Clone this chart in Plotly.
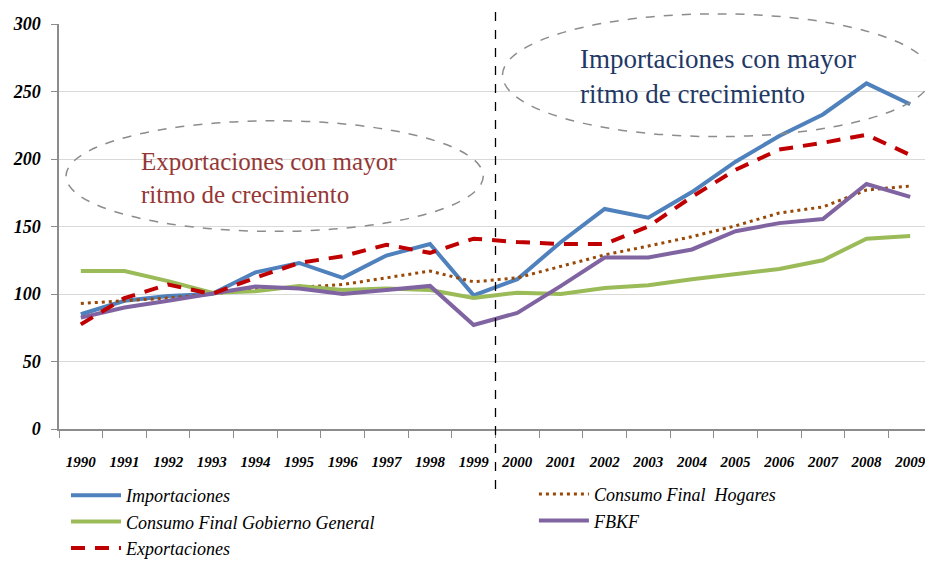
import plotly.graph_objects as go

# Índices (1993 = 100)
anios = [str(a) for a in range(1990, 2010)]

importaciones = [85, 95, 98.5, 100, 116, 123, 112, 128.5, 137, 99,
                 111, 138.5, 163, 156.5, 175.5, 198, 217, 233, 256, 240.5]
exportaciones = [77.5, 97, 107, 100, 112, 123, 128, 136.5, 130.5, 141,
                 138.5, 137, 137, 150, 172, 192, 207, 212, 218, 203]
hogares = [93, 95, 97, 100, 103.5, 105, 107, 112, 117, 109,
           112, 120.5, 129, 135.5, 142.5, 150.5, 160, 164.5, 177, 180]
gobierno = [117, 117, 109.5, 101, 102, 106, 103, 104, 103, 97,
            101, 100, 104.5, 106.5, 111, 114.5, 118.5, 125, 141, 143]
fbkf = [82.5, 90, 95, 100, 105.5, 104, 100, 103, 106, 77,
        86, 106, 127, 127, 133, 146.5, 152.5, 155.5, 181.5, 172]

AZUL = "#4F81BD"
ROJO = "#C00000"
MARRON = "#984807"
VERDE = "#9BBB59"
MORADO = "#8064A2"

# (nombre, valores, estilo, leyenda/columna)
series = [
    ("Importaciones", importaciones, dict(color=AZUL, width=4), "legend"),
    ("Consumo Final  Hogares", hogares, dict(color=MARRON, width=3, dash="3px,4px"), "legend2"),
    ("Consumo Final Gobierno General", gobierno, dict(color=VERDE, width=4), "legend"),
    ("FBKF", fbkf, dict(color=MORADO, width=4), "legend2"),
    ("Exportaciones", exportaciones, dict(color=ROJO, width=4, dash="14px,10px"), "legend"),
]

fig = go.Figure()
for nombre, valores, linea, ley in series:
    fig.add_trace(go.Scatter(x=anios, y=valores, mode="lines", name=nombre, line=linea, legend=ley))

SERIF = "Liberation Serif"
ley_base = dict(
    orientation="v", itemwidth=50, tracegroupgap=0,
    font=dict(family=SERIF, size=18, style="italic", color="black"),
    bgcolor="rgba(0,0,0,0)",
)

# la página añade 8 px de margen al cuerpo: figura de 925x559
fig.update_layout(
    width=925, height=559,
    paper_bgcolor="white", plot_bgcolor="white",
    margin=dict(l=51, r=1, t=16, b=137),
    font=dict(family=SERIF, color="black"),
    xaxis=dict(
        type="category", range=[-0.5, 19.5], showgrid=False, showline=True,
        linecolor="#8C8C8C", linewidth=1.5,
        ticks="outside", tickson="boundaries", ticklen=7, tickcolor="#8C8C8C",
        ticklabelstandoff=18, automargin=False,
        tickfont=dict(family=SERIF, size=15, style="italic", weight="bold", color="black"),
    ),
    yaxis=dict(
        range=[0, 300], dtick=50, showgrid=True, gridcolor="#D9D9D9", gridwidth=1,
        showline=True, linecolor="#8C8C8C", linewidth=1.5, zeroline=False,
        ticks="outside", ticklen=6, tickcolor="#8C8C8C", automargin=False,
        ticklabelstandoff=7,
        tickfont=dict(family=SERIF, size=18, style="italic", weight="bold", color="black"),
    ),
    legend=dict(x=0.008, y=-0.3374, xanchor="left", yanchor="bottom", **ley_base),
    legend2=dict(x=0.544, y=-0.113, xanchor="left", yanchor="top", **ley_base),
    showlegend=True,
)

# Línea divisoria vertical entre 1999 y 2000
fig.add_shape(type="line", xref="paper", yref="paper", x0=0.5, x1=0.5, y0=-0.148, y1=1.03,
              line=dict(color="black", width=1.3, dash="dash"))

# Elipses
fig.add_shape(type="circle", xref="paper", yref="paper", x0=0.008, x1=0.486, y0=0.488, y1=0.761,
              line=dict(color="#8C8C8C", width=1.5, dash="dash"))
fig.add_shape(type="circle", xref="paper", yref="paper", x0=0.508, x1=1.0, y0=0.722, y1=1.025,
              line=dict(color="#8C8C8C", width=1.5, dash="dash"))

fig.add_annotation(xref="paper", yref="paper", x=0.0916, y=0.62, xanchor="left", yanchor="middle",
                   align="left", showarrow=False,
                   text="Exportaciones con mayor<br>ritmo de crecimiento",
                   font=dict(family=SERIF, size=25, color="#953735"))
fig.add_annotation(xref="paper", yref="paper", x=0.5945, y=0.871, xanchor="left", yanchor="middle",
                   align="left", showarrow=False,
                   text="Importaciones con mayor<br>ritmo de crecimiento",
                   font=dict(family=SERIF, size=27, color="#1F3864"))

fig.write_html("out.html")
